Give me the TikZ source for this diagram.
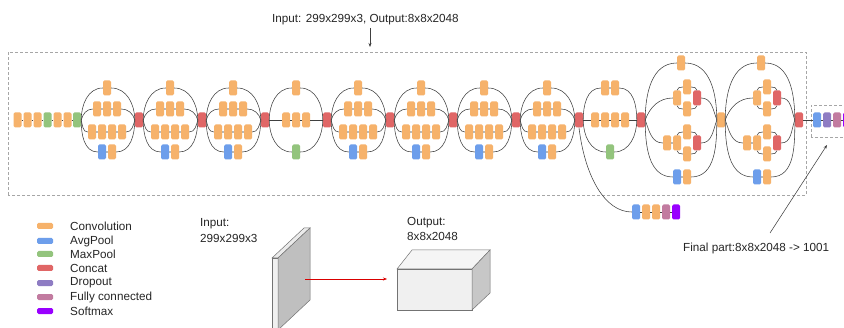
\documentclass[tikz,border=0pt]{standalone}
\usepackage{fontspec}
\setmainfont{Liberation Sans}
\usetikzlibrary{arrows.meta}

\definecolor{cConv}{HTML}{F6B26B}
\definecolor{cAvg}{HTML}{6D9EEB}
\definecolor{cMax}{HTML}{93C47D}
\definecolor{cCat}{HTML}{E06666}
\definecolor{cDrop}{HTML}{8E7CC3}
\definecolor{cFc}{HTML}{C27BA0}
\definecolor{cSoft}{HTML}{9900FF}

\tikzset{
  blk/.style={rectangle, rounded corners=1.5pt, minimum width=8pt, minimum height=15pt, inner sep=0pt},
  conv/.style={blk, fill=cConv},
  avgp/.style={blk, fill=cAvg},
  maxp/.style={blk, fill=cMax},
  cat/.style={blk, fill=cCat},
  drop/.style={blk, fill=cDrop},
  fc/.style={blk, fill=cFc},
  soft/.style={blk, fill=cSoft},
  wire/.style={draw=black!75, line width=0.55pt},
  frame/.style={draw=black!35, line width=0.6pt, dash pattern=on 3pt off 2pt},
  lbl/.style={font=\fontsize{11.7}{13.5}\selectfont, inner sep=0pt, anchor=west, text=black!85},
  swatch/.style={rectangle, rounded corners=1.5pt, minimum width=16pt, minimum height=6pt, inner sep=0pt},
  face/.style={draw=black!55, line width=0.5pt},
}

% Inception-A / C style module: #1 prefix, #2 centre x, #3 input node
\newcommand\incA[3]{%
  \node[conv] (#1t)  at (#2,239) {};
  \node[conv] (#1a1) at (#2-10,218) {};
  \node[conv] (#1a2) at (#2,218) {};
  \node[conv] (#1a3) at (#2+10,218) {};
  \node[conv] (#1b1) at (#2-15,195) {};
  \node[conv] (#1b2) at (#2-5,195) {};
  \node[conv] (#1b3) at (#2+5,195) {};
  \node[conv] (#1b4) at (#2+15,195) {};
  \node[avgp] (#1c1) at (#2-5,175) {};
  \node[conv] (#1c2) at (#2+5,175) {};
  \node[cat]  (#1o)  at (#2+32,207) {};
  \draw[wire] (#3.east) to[out=90,in=180] (#1t.west)
              (#1t.east) to[out=0,in=90] (#1o.west);
  \draw[wire] (#3.east) to[out=75,in=180] (#1a1.west)
              (#1a1) -- (#1a2) -- (#1a3)
              (#1a3.east) to[out=0,in=105] (#1o.west);
  \draw[wire] (#3.east) to[out=-75,in=180] (#1b1.west)
              (#1b1) -- (#1b2) -- (#1b3) -- (#1b4)
              (#1b4.east) to[out=0,in=-105] (#1o.west);
  \draw[wire] (#3.east) to[out=-90,in=180] (#1c1.west)
              (#1c1) -- (#1c2)
              (#1c2.east) to[out=0,in=-90] (#1o.west);
}

% Reduction-A module
\newcommand\incB[3]{%
  \node[conv] (#1t)  at (#2,239) {};
  \node[conv] (#1m1) at (#2-10,207) {};
  \node[conv] (#1m2) at (#2,207) {};
  \node[conv] (#1m3) at (#2+10,207) {};
  \node[maxp] (#1g)  at (#2,175) {};
  \node[cat]  (#1o)  at (#2+31,207) {};
  \draw[wire] (#3.east) to[out=90,in=180] (#1t.west)
              (#1t.east) to[out=0,in=90] (#1o.west);
  \draw[wire] (#3) -- (#1m1) -- (#1m2) -- (#1m3) -- (#1o);
  \draw[wire] (#3.east) to[out=-90,in=180] (#1g.west)
              (#1g.east) to[out=0,in=-90] (#1o.west);
}

% Reduction-B module
\newcommand\incD[3]{%
  \node[conv] (#1t1) at (#2-5,239) {};
  \node[conv] (#1t2) at (#2+5,239) {};
  \node[conv] (#1m1) at (#2-15,207) {};
  \node[conv] (#1m2) at (#2-5,207) {};
  \node[conv] (#1m3) at (#2+5,207) {};
  \node[conv] (#1m4) at (#2+15,207) {};
  \node[maxp] (#1g)  at (#2,175) {};
  \node[cat]  (#1o)  at (#2+31,207) {};
  \draw[wire] (#3.east) to[out=90,in=180] (#1t1.west)
              (#1t1) -- (#1t2)
              (#1t2.east) to[out=0,in=90] (#1o.west);
  \draw[wire] (#3) -- (#1m1) -- (#1m2) -- (#1m3) -- (#1m4) -- (#1o);
  \draw[wire] (#3.east) to[out=-90,in=180] (#1g.west)
              (#1g.east) to[out=0,in=-90] (#1o.west);
}

% Inception-E module: #1 prefix, #2 centre x, #3 input node, #4 output node
\newcommand\incE[4]{%
  \node[conv] (#1t)  at (#2,264) {};
  \node[conv] (#1u1) at (#2-4,229) {};
  \node[conv] (#1u2) at (#2+6,240) {};
  \node[conv] (#1u3) at (#2+6,218) {};
  \node[cat]  (#1ur) at (#2+16,229) {};
  \node[conv] (#1l1) at (#2-14,184) {};
  \node[conv] (#1l2) at (#2-4,184) {};
  \node[conv] (#1l3) at (#2+6,195) {};
  \node[conv] (#1l4) at (#2+6,173) {};
  \node[cat]  (#1lr) at (#2+16,184) {};
  \node[avgp] (#1v1) at (#2-4,150) {};
  \node[conv] (#1v2) at (#2+6,150) {};
  \draw[wire] (#3.east) to[out=90,in=180] (#1t.west)
              (#1t.east) to[out=0,in=90] (#4.west);
  \draw[wire] (#3.east) to[out=70,in=180] (#1u1.west)
              (#1u1.north) to[out=90,in=180] (#1u2.west)
              (#1u1.south) to[out=-90,in=180] (#1u3.west)
              (#1u2.east) to[out=0,in=90] (#1ur.north)
              (#1u3.east) to[out=0,in=-90] (#1ur.south)
              (#1ur.east) to[out=0,in=110] (#4.west);
  \draw[wire] (#3.east) to[out=-70,in=180] (#1l1.west)
              (#1l1) -- (#1l2)
              (#1l2.north) to[out=90,in=180] (#1l3.west)
              (#1l2.south) to[out=-90,in=180] (#1l4.west)
              (#1l3.east) to[out=0,in=90] (#1lr.north)
              (#1l4.east) to[out=0,in=-90] (#1lr.south)
              (#1lr.east) to[out=0,in=-110] (#4.west);
  \draw[wire] (#3.east) to[out=-90,in=180] (#1v1.west)
              (#1v1) -- (#1v2)
              (#1v2.east) to[out=0,in=-90] (#4.west);
}

\begin{document}
\begin{tikzpicture}[x=1pt, y=1pt]
\useasboundingbox (0,0) rectangle (844,327);
\clip (0,0) rectangle (844,327);
\fill[white] (0,0) rectangle (844,327);

% frames
\draw[frame] (8,132) rectangle (806,275);
\draw[frame] (811,190) rectangle (860,222);

% title and its pointer
\node[lbl] (title) at (272,307) {Input: 299x299x3, Output:8x8x2048};
\coordinate (tA) at (370,299);
\coordinate (tB) at (370,280);
\draw[wire, -{Stealth[length=4pt,width=3pt]}] (tA) -- (tB);

% stem
\node[conv] (s1) at (17.5,207) {};
\node[conv] (s2) at (27.5,207) {};
\node[conv] (s3) at (37.5,207) {};
\node[maxp] (s4) at (47.5,207) {};
\node[conv] (s5) at (57.5,207) {};
\node[conv] (s6) at (67.5,207) {};
\node[maxp] (s7) at (77,207) {};
\draw[wire] (s1) -- (s2) -- (s3) -- (s4) -- (s5) -- (s6) -- (s7);

% inception blocks
\incA{Aa}{107}{s7}
\incA{Ab}{170}{Aao}
\incA{Ac}{233}{Abo}
\incB{Ba}{296}{Aco}
\incA{Ca}{358}{Bao}
\incA{Cb}{421}{Cao}
\incA{Cc}{484}{Cbo}
\incA{Cd}{547}{Cco}
\incD{Da}{610}{Cdo}
\node[conv] (Eao) at (721,207) {};
\incE{Ea}{681}{Dao}{Eao}
\node[cat] (Ebo) at (799,207) {};
\incE{Eb}{761}{Eao}{Ebo}

% final part
\node[avgp] (f1) at (817,207) {};
\node[drop] (f2) at (827,207) {};
\node[fc]   (f3) at (837,207) {};
\node[soft] (f4) at (847,207) {};
\draw[wire] (Ebo) -- (f1) -- (f2) -- (f3) -- (f4);

% auxiliary classifier
\node[avgp] (x1) at (636,115) {};
\node[conv] (x2) at (646,115) {};
\node[conv] (x3) at (656,115) {};
\node[fc]   (x4) at (666,115) {};
\node[soft] (x5) at (676,115) {};
\draw[wire] (x1) -- (x2) -- (x3) -- (x4) -- (x5);
\draw[wire] (Cdo.south) .. controls (585,150) and (605,115) .. (x1.west);

% final part label and pointer
\node[lbl] (fpl) at (683,79) {Final part:8x8x2048 -> 1001};
\coordinate (fpfoot) at (770,94);
\coordinate (fphead) at (827,182);
\draw[wire, -{Stealth[length=4pt,width=3pt]}] (fpfoot) -- (fphead);

% legend
\node[swatch, fill=cConv] (k1) at (45,101) {};
\node[swatch, fill=cAvg]  (k2) at (45,86) {};
\node[swatch, fill=cMax]  (k3) at (45,73) {};
\node[swatch, fill=cCat]  (k4) at (45,59) {};
\node[swatch, fill=cDrop] (k5) at (45,44) {};
\node[swatch, fill=cFc]   (k6) at (45,30) {};
\node[swatch, fill=cSoft] (k7) at (45,16) {};
\node[lbl] (t1) at (70,101) {Convolution};
\node[lbl] (t2) at (70,86) {AvgPool};
\node[lbl] (t3) at (70,73) {MaxPool};
\node[lbl] (t4) at (70,59) {Concat};
\node[lbl] (t5) at (70,44) {Dropout};
\node[lbl] (t6) at (70,30) {Fully connected};
\node[lbl] (t7) at (70,16) {Softmax};

% input slab
\node[lbl] (inl1) at (200,103) {Input:};
\node[lbl] (inl2) at (200,89) {299x299x3};
\draw[face, fill=black!6] (272,-5) rectangle (278,69);
\draw[face, fill=black!8] (272,69) -- (278,69) -- (310,99) -- (304,99) -- cycle;
\draw[face, fill=black!25] (278,69) -- (310,99) -- (310,27) -- (278,-3) -- cycle;

% output volume
\node[lbl] (outl1) at (407,104) {Output:};
\node[lbl] (outl2) at (407,91) {8x8x2048};
\draw[face, fill=black!6] (397,17) rectangle (472,58);
\draw[face, fill=black!4] (397,58) -- (412,77) -- (490,77) -- (472,58) -- cycle;
\draw[face, fill=black!22] (472,58) -- (490,77) -- (490,34) -- (472,17) -- cycle;

% mapping arrow
\coordinate (mA) at (305,48);
\coordinate (mB) at (387,48);
\draw[red!85!black, line width=0.5pt, -{Stealth[length=4pt,width=3pt]}] (mA) -- (mB);
\end{tikzpicture}
\end{document}
